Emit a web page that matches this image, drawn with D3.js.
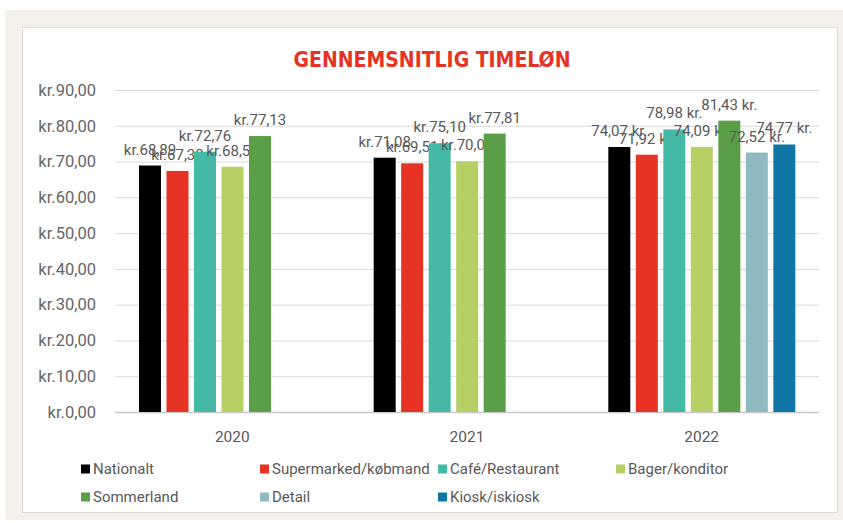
<!DOCTYPE html>
<html>
<head>
<meta charset="utf-8">
<script src="https://cdn.jsdelivr.net/npm/d3@7"></script>
<style>
  body { margin: 0; background: #fff; }
  svg { display: block; }
  text { font-family: Roboto, "Open Sans", sans-serif; fill: #595959; }
</style>
</head>
<body>
<svg id="chart" width="843" height="523"></svg>
<script>
const years  = ['2020', '2021', '2022'];
const series = ['Nationalt', 'Supermarked/købmand', 'Café/Restaurant', 'Bager/konditor',
                'Sommerland', 'Detail', 'Kiosk/iskiosk'];
const colors = ['#000000', '#e63323', '#45b9a5', '#b5d165', '#5a9e47', '#8fbac2', '#0f76a6'];

// one row per year, null where the series did not exist yet
const values = [
  [68.89, 67.38, 72.76, 68.56, 77.13, null, null],
  [71.08, 69.51, 75.10, 70.09, 77.81, null, null],
  [74.07, 71.92, 78.98, 74.09, 81.43, 72.52, 74.77]
];
const yTicks = [0, 10, 20, 30, 40, 50, 60, 70, 80, 90];

const svg = d3.select('#chart');

// frame: beige page with white panel
svg.append('rect').attr('x', 5).attr('y', 10).attr('width', 838).attr('height', 510)
  .attr('fill', '#f4f1ec');
svg.append('rect').attr('x', 22.5).attr('y', 27.5).attr('width', 815).attr('height', 485)
  .attr('fill', '#fff').attr('stroke', '#d9d9d9');

svg.append('text')
  .attr('x', 432).attr('y', 67)
  .attr('text-anchor', 'middle')
  .style('font-family', '"DejaVu Sans Condensed", sans-serif')
  .style('font-weight', 'bold')
  .style('font-size', '21px')
  .style('fill', '#e63323')
  .text('GENNEMSNITLIG TIMELØN');

const x0 = d3.scaleBand().domain(years).range([115, 819]);
const x1 = d3.scaleBand().domain(series).range([24, 211]).paddingInner(0.2);
const y  = d3.scaleLinear().domain([0, 90]).range([412, 90]);

const fmt = d3.format('.2f');
const money = (v, yr) => yr === '2022'
  ? fmt(v).replace('.', ',') + ' kr.'
  : 'kr.' + fmt(v).replace('.', ',');

// grid
svg.append('g').selectAll('line')
  .data(yTicks)
  .enter().append('line')
    .attr('x1', 115).attr('x2', 819)
    .attr('y1', d => y(d) + 0.5).attr('y2', d => y(d) + 0.5)
    .attr('stroke', d => d === 0 ? '#c8c8c8' : '#d9d9d9')
    .attr('stroke-width', d => d === 0 ? 1.5 : 1);

svg.append('g').selectAll('text')
  .data(yTicks)
  .enter().append('text')
    .attr('x', 96).attr('y', d => y(d))
    .attr('dy', '0.35em')
    .attr('text-anchor', 'end')
    .style('font-size', '16.5px')
    .style('fill', '#666')
    .text(d => 'kr.' + d + ',00');

// bars
const groups = svg.append('g').selectAll('g')
  .data(years)
  .enter().append('g')
    .attr('transform', d => `translate(${x0(d)},0)`);

const cells = groups.selectAll('g')
  .data((yr, i) => series.map((s, j) => ({ yr, s, v: values[i][j], c: colors[j] }))
    .filter(d => d.v != null))
  .enter().append('g');

cells.append('rect')
  .attr('x', d => x1(d.s))
  .attr('width', x1.bandwidth())
  .attr('y', d => y(d.v))
  .attr('height', d => y(0) - y(d.v))
  .attr('fill', d => d.c);

cells.append('text')
  .attr('x', d => x1(d.s) + x1.bandwidth() / 2)
  .attr('y', d => y(d.v) - 11)
  .attr('text-anchor', 'middle')
  .style('font-size', '15px')
  .text(d => money(d.v, d.yr));

// year labels
svg.append('g').selectAll('text')
  .data(years)
  .enter().append('text')
    .attr('x', d => x0(d) + x0.bandwidth() / 2)
    .attr('y', 442)
    .attr('text-anchor', 'middle')
    .style('font-size', '15.5px')
    .text(d => d);

// legend, four per row
const legend = svg.append('g').selectAll('g')
  .data(series)
  .enter().append('g')
    .attr('transform', (d, i) => `translate(${[81, 260, 438, 616][i % 4]},${i < 4 ? 469 : 497})`);

legend.append('rect')
  .attr('x', 0).attr('y', -4.5).attr('width', 9).attr('height', 9)
  .attr('fill', (d, i) => colors[i]);

legend.append('text')
  .attr('x', 12).attr('dy', '0.35em')
  .style('font-size', '15px')
  .text(d => d);
</script>
</body>
</html>
